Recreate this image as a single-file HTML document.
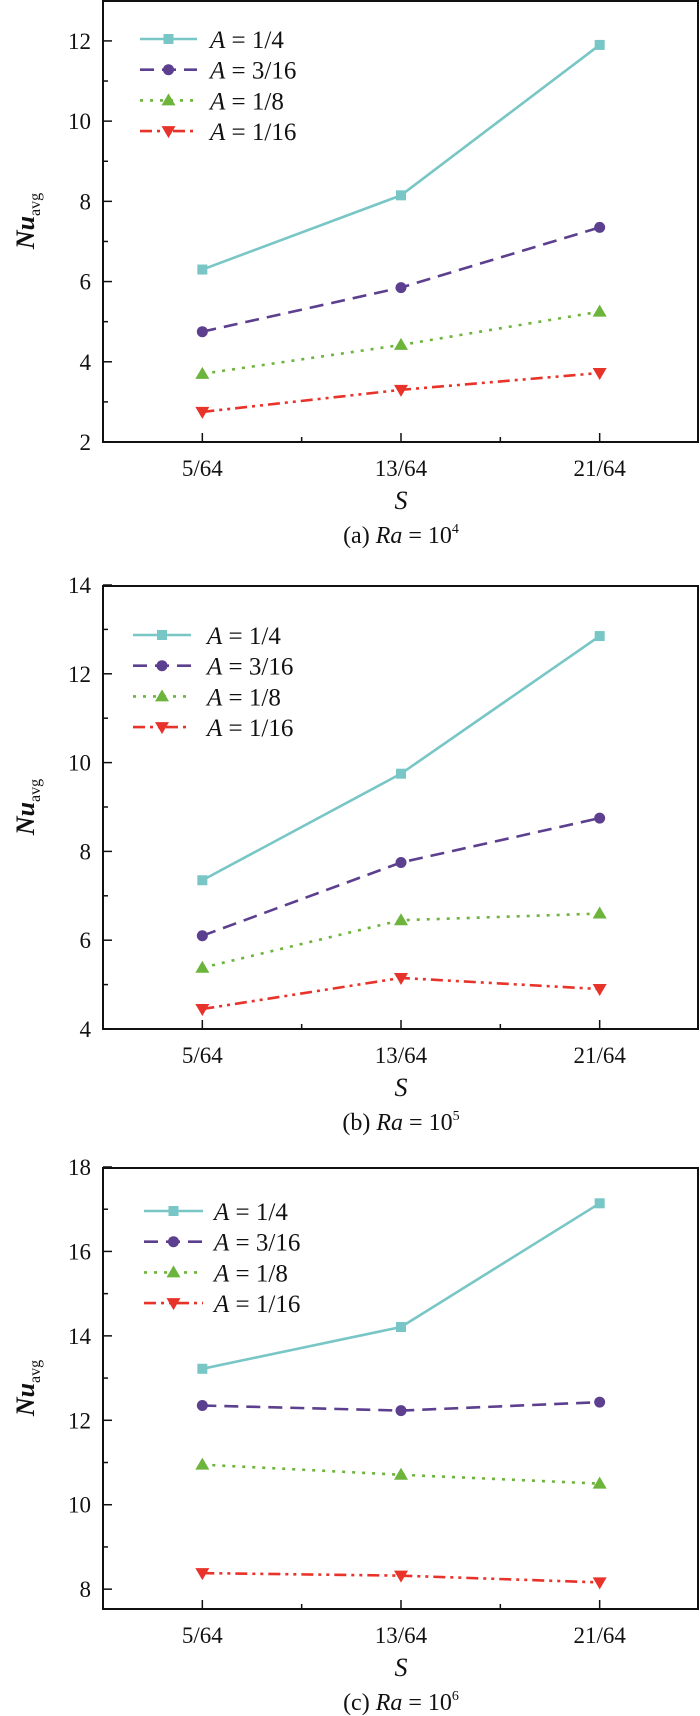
<!DOCTYPE html>
<html><head><meta charset="utf-8">
<style>
html,body{margin:0;padding:0;background:#fff;}
svg{display:block;font-family:"Liberation Serif",serif;}
</style></head>
<body>
<svg id="chart" width="700" height="1716" viewBox="0 0 700 1716" xmlns="http://www.w3.org/2000/svg"></svg>
<script>
const categories = ["5/64","13/64","21/64"];
const seriesLabels = ["A = 1/4","A = 3/16","A = 1/8","A = 1/16"];
// Panel (a) Ra = 10^4
const a_quarter = [6.3, 8.15, 11.9];
const a_threeSixteenth = [4.75, 5.85, 7.35];
const a_eighth = [3.7, 4.42, 5.25];
const a_sixteenth = [2.75, 3.3, 3.72];
// Panel (b) Ra = 10^5
const b_quarter = [7.35, 9.75, 12.85];
const b_threeSixteenth = [6.1, 7.75, 8.75];
const b_eighth = [5.38, 6.45, 6.6];
const b_sixteenth = [4.45, 5.15, 4.9];
// Panel (c) Ra = 10^6
const c_quarter = [13.22, 14.21, 17.14];
const c_threeSixteenth = [12.35, 12.23, 12.43];
const c_eighth = [10.95, 10.71, 10.5];
const c_sixteenth = [8.38, 8.32, 8.16];
const a_ticks = [2,4,6,8,10,12];
const b_ticks = [4,6,8,10,12,14];
const c_ticks = [8,10,12,14,16,18];

const NS = "http://www.w3.org/2000/svg";
const svg = document.getElementById("chart");
function mk(tag, attrs, parent){
  const e = document.createElementNS(NS, tag);
  for (const k in attrs) e.setAttribute(k, attrs[k]);
  (parent||svg).appendChild(e);
  return e;
}
const styles = [
  {color:"#78c6c6", dash:"", marker:"square"},
  {color:"#5c3f8e", dash:"14 8", marker:"circle"},
  {color:"#6cb43c", dash:"3 7", marker:"up"},
  {color:"#e8332a", dash:"12 5 3 5 3 5", marker:"down"}
];
function marker(g, type, x, y, color){
  let m;
  if (type==="square") m = mk("rect",{x:x-5,y:y-5,width:10,height:10,fill:color},g);
  else if (type==="circle") m = mk("circle",{cx:x,cy:y,r:5.5,fill:color},g);
  else if (type==="up") m = mk("polygon",{points:`${x},${y-7} ${x-7},${y+5} ${x+7},${y+5}`,fill:color},g);
  else m = mk("polygon",{points:`${x},${y+7} ${x-7},${y-5} ${x+7},${y-5}`,fill:color},g);
  
  
}
const panels = [
  {id:"a", top:0, bottom:442, ymin:2, ymax:13.02, ticks:a_ticks, series:[a_quarter,a_threeSixteenth,a_eighth,a_sixteenth], legTop:39, legX0:140, legX1:197, legText:210, exp:"4"},
  {id:"b", top:585, bottom:1029, ymin:4, ymax:14, ticks:b_ticks, series:[b_quarter,b_threeSixteenth,b_eighth,b_sixteenth], legTop:635, legX0:133, legX1:191, legText:207, exp:"5"},
  {id:"c", top:1167, bottom:1609, ymin:7.53, ymax:18, ticks:c_ticks, series:[c_quarter,c_threeSixteenth,c_eighth,c_sixteenth], legTop:1211, legX0:144, legX1:203, legText:214, exp:"6"}
];
const left = 103, right = 699;
const step = (right-left)/3;
function xPos(i){ return left + step*(i+0.5); }

panels.forEach(p=>{
  const g = mk("g",{});
  
  
  const yPos = v => p.bottom - (v-p.ymin)/(p.ymax-p.ymin)*(p.bottom-p.top);
  const fr = mk("rect",{x:left,y:p.top+1,width:right-left-1,height:p.bottom-p.top-1,fill:"none",stroke:"#111","stroke-width":2},g);
  
  
  p.ticks.forEach((t,k)=>{
    const y = yPos(t);
    const tk = mk("line",{x1:left,x2:left+9,y1:y,y2:y,stroke:"#111","stroke-width":1.5},g);
    
    
    const lb = mk("text",{x:left-12,y:y+8,"text-anchor":"end","font-size":23,fill:"#111"},g);
    lb.textContent = t;
    
    
    const mv = t+1;
    if (mv < p.ymax) {
      const ym = yPos(mv);
      const mt = mk("line",{x1:left,x2:left+5,y1:ym,y2:ym,stroke:"#111","stroke-width":1.5},g);
      
      
    }
  });
  categories.forEach((c,i)=>{
    const x = xPos(i);
    const tk = mk("line",{x1:x,x2:x,y1:p.bottom,y2:p.bottom-9,stroke:"#111","stroke-width":1.5},g);
    
    
    const lb = mk("text",{x:x,y:p.bottom+34,"text-anchor":"middle","font-size":23,fill:"#111"},g);
    lb.textContent = c;
    
    
    if (i < categories.length-1) {
      const xm = x + step/2;
      const mt = mk("line",{x1:xm,x2:xm,y1:p.bottom,y2:p.bottom-5,stroke:"#111","stroke-width":1.5},g);
      
      
    }
  });
  const xt = mk("text",{x:xPos(1),y:p.bottom+67,"text-anchor":"middle","font-size":26,"font-style":"italic",fill:"#111"},g);
  xt.textContent = "S";
  
  
  const cy = (p.top+p.bottom)/2;
  const yt = mk("text",{x:0,y:0,"text-anchor":"middle","font-size":26,fill:"#111",transform:`translate(34,${cy}) rotate(-90)`},g);
  yt.innerHTML = '<tspan font-style="italic" font-weight="bold">Nu</tspan><tspan font-size="16" dy="6">avg</tspan>';
  
  
  const cap = mk("text",{x:xPos(1),y:p.bottom+101,"text-anchor":"middle","font-size":24,fill:"#111"},g);
  cap.innerHTML = '(' + p.id + ') <tspan font-style="italic">Ra</tspan> = 10<tspan font-size="14" dy="-10">' + p.exp + '</tspan>';
  
  
  p.series.forEach((vals,s)=>{
    const st = styles[s];
    const sg = mk("g",{},g);
    
    
    const pts = vals.map((v,i)=>xPos(i)+","+yPos(v)).join(" ");
    const pl = mk("polyline",{points:pts,fill:"none",stroke:st.color,"stroke-width":2.6,"stroke-dasharray":st.dash},sg);
    
    
    vals.forEach((v,i)=>marker(sg, st.marker, xPos(i), yPos(v), st.color));
  });
  const lg = mk("g",{},g);
  
  
  seriesLabels.forEach((lab,s)=>{
    const st = styles[s];
    const y = p.legTop + s*30.7;
    const eg = mk("g",{},lg);
    
    
    mk("line",{x1:p.legX0,x2:p.legX1,y1:y,y2:y,stroke:st.color,"stroke-width":2.6,"stroke-dasharray":st.dash},eg);
    marker(eg, st.marker, (p.legX0+p.legX1)/2, y, st.color);
    const t = mk("text",{x:p.legText,y:y+9,"font-size":25,fill:"#111"},eg);
    t.innerHTML = '<tspan font-style="italic">A</tspan>' + lab.slice(1);
  });
});
</script>
</body></html>
